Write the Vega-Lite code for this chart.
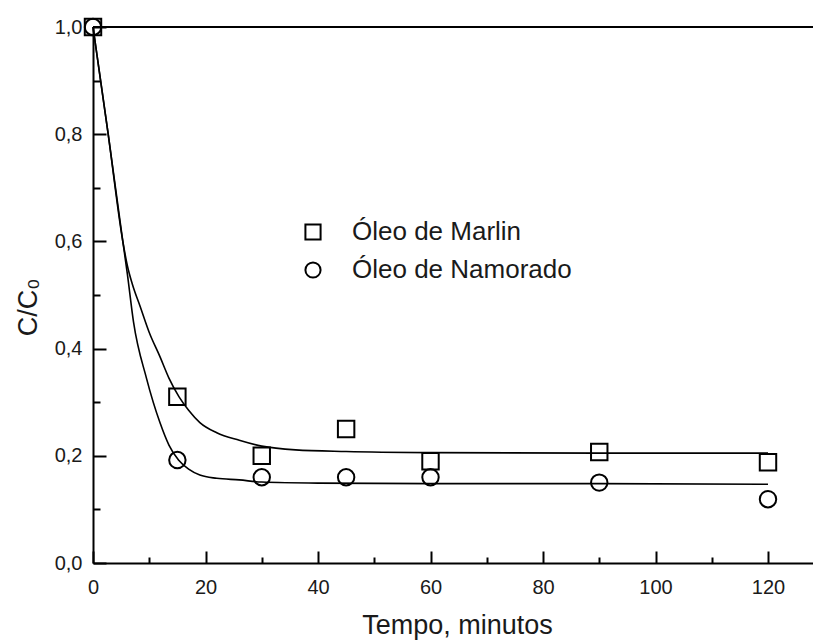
{
  "$schema": "https://vega.github.io/schema/vega-lite/v6.json",
  "width": 720,
  "height": 536,
  "autosize": {"type": "none"},
  "padding": {"left": 93, "top": 27, "right": 0, "bottom": 79},
  "background": "white",
  "config": {
    "view": {"stroke": null},
    "font": "Liberation Sans",
    "axis": {"grid": false, "domainColor": "black", "domainWidth": 2, "tickColor": "black", "tickWidth": 2, "labelColor": "#1a1a1a", "titleColor": "#1a1a1a", "labelFont": "Liberation Sans", "titleFont": "Liberation Sans", "labelFlush": false, "labelOverlap": false}
  },
  "datasets": {
    "pts": [
      {"series": "Óleo de Marlin", "t": 0, "c": 1.0},
      {"series": "Óleo de Marlin", "t": 15, "c": 0.31},
      {"series": "Óleo de Marlin", "t": 30, "c": 0.20},
      {"series": "Óleo de Marlin", "t": 45, "c": 0.25},
      {"series": "Óleo de Marlin", "t": 60, "c": 0.19},
      {"series": "Óleo de Marlin", "t": 90, "c": 0.207},
      {"series": "Óleo de Marlin", "t": 120, "c": 0.188},
      {"series": "Óleo de Namorado", "t": 0, "c": 1.0},
      {"series": "Óleo de Namorado", "t": 15, "c": 0.192},
      {"series": "Óleo de Namorado", "t": 30, "c": 0.16},
      {"series": "Óleo de Namorado", "t": 45, "c": 0.16},
      {"series": "Óleo de Namorado", "t": 60, "c": 0.16},
      {"series": "Óleo de Namorado", "t": 90, "c": 0.15},
      {"series": "Óleo de Namorado", "t": 120, "c": 0.119}
    ],
    "fit": [
      {"series": "Marlin", "t": 0, "c": 1.0},
      {"series": "Marlin", "t": 2.7, "c": 0.8},
      {"series": "Marlin", "t": 5.3, "c": 0.6},
      {"series": "Marlin", "t": 6.1, "c": 0.555},
      {"series": "Marlin", "t": 7, "c": 0.52},
      {"series": "Marlin", "t": 8.4, "c": 0.478},
      {"series": "Marlin", "t": 10, "c": 0.43},
      {"series": "Marlin", "t": 11.9, "c": 0.385},
      {"series": "Marlin", "t": 13.5, "c": 0.345},
      {"series": "Marlin", "t": 15.3, "c": 0.31},
      {"series": "Marlin", "t": 17, "c": 0.285},
      {"series": "Marlin", "t": 19, "c": 0.262},
      {"series": "Marlin", "t": 22, "c": 0.243},
      {"series": "Marlin", "t": 26, "c": 0.229},
      {"series": "Marlin", "t": 30, "c": 0.218},
      {"series": "Marlin", "t": 36, "c": 0.211},
      {"series": "Marlin", "t": 45, "c": 0.208},
      {"series": "Marlin", "t": 60, "c": 0.206},
      {"series": "Marlin", "t": 90, "c": 0.205},
      {"series": "Marlin", "t": 120, "c": 0.205},
      {"series": "Namorado", "t": 0, "c": 1.0},
      {"series": "Namorado", "t": 2.7, "c": 0.8},
      {"series": "Namorado", "t": 5.3, "c": 0.6},
      {"series": "Namorado", "t": 6.1, "c": 0.54},
      {"series": "Namorado", "t": 7.2, "c": 0.45},
      {"series": "Namorado", "t": 9.5, "c": 0.345},
      {"series": "Namorado", "t": 11.9, "c": 0.262},
      {"series": "Namorado", "t": 13.5, "c": 0.22},
      {"series": "Namorado", "t": 15.2, "c": 0.192},
      {"series": "Namorado", "t": 17, "c": 0.175},
      {"series": "Namorado", "t": 19, "c": 0.164},
      {"series": "Namorado", "t": 22, "c": 0.158},
      {"series": "Namorado", "t": 26, "c": 0.155},
      {"series": "Namorado", "t": 30, "c": 0.151},
      {"series": "Namorado", "t": 40, "c": 0.149},
      {"series": "Namorado", "t": 60, "c": 0.148},
      {"series": "Namorado", "t": 90, "c": 0.148},
      {"series": "Namorado", "t": 120, "c": 0.147}
    ]
  },
  "resolve": {"axis": {"x": "independent", "y": "independent"}},
  "layer": [
    {
      "data": {"values": [{}]},
      "mark": {"type": "rule", "color": "black", "strokeWidth": 2},
      "encoding": {"y": {"datum": 1, "type": "quantitative", "axis": null}}
    },
    {
      "data": {"name": "fit"},
      "mark": {"type": "line", "color": "black", "strokeWidth": 1.6, "interpolate": "monotone"},
      "encoding": {
        "x": {
          "field": "t", "type": "quantitative",
          "axis": {
            "orient": "bottom",
            "values": [0, 20, 40, 60, 80, 100, 120],
            "ticks": true,
            "tickSize": -12,
            "labelPadding": 26,
            "labelFontSize": 20,
            "title": "Tempo, minutos",
            "titleFontSize": 27,
            "titleFontWeight": "normal",
            "titleX": 364,
            "titleY": 62,
            "titleAlign": "center",
            "titleBaseline": "middle"
          }
        },
        "y": {
          "field": "c", "type": "quantitative",
          "axis": {
            "orient": "left",
            "values": [0, 0.2, 0.4, 0.6, 0.8, 1.0],
            "labelExpr": "replace(format(datum.value, '.1f'), '.', ',')",
            "ticks": true,
            "tickSize": -13,
            "labelPadding": 24,
            "labelFontSize": 20,
            "title": "C/C₀",
            "titleFontSize": 27,
            "titleFontWeight": "normal",
            "titleAngle": 270,
            "titleX": -65,
            "titleY": 280,
            "titleAlign": "center",
            "titleBaseline": "middle"
          }
        },
        "detail": {"field": "series", "type": "nominal"}
      }
    },
    {
      "data": {"name": "pts"},
      "mark": {"type": "point", "filled": false, "color": "black", "strokeWidth": 2, "size": 270, "opacity": 1},
      "encoding": {
        "x": {
          "field": "t", "type": "quantitative",
          "scale": {"domain": [0, 128], "nice": false, "zero": false},
          "axis": {"orient": "bottom", "values": [10, 30, 50, 70, 90, 110], "tickSize": -6, "labels": false, "domain": false, "title": null}
        },
        "y": {
          "field": "c", "type": "quantitative",
          "scale": {"domain": [0, 1], "nice": false, "zero": false},
          "axis": {"orient": "left", "values": [0.1, 0.3, 0.5, 0.7, 0.9], "tickSize": -7, "labels": false, "domain": false, "title": null}
        },
        "shape": {
          "field": "series", "type": "nominal",
          "scale": {"domain": ["Óleo de Marlin", "Óleo de Namorado"], "range": ["square", "circle"]},
          "legend": {
            "title": null,
            "orient": "none",
            "legendX": 207,
            "legendY": 192,
            "padding": 0,
            "labelFontSize": 26,
            "labelFont": "Liberation Sans",
            "labelColor": "#1a1a1a",
            "labelOffset": 26,
            "labelLimit": 500,
            "rowPadding": 12,
            "symbolSize": 230,
            "symbolStrokeColor": "black",
            "symbolStrokeWidth": 2,
            "symbolFillColor": "transparent"
          }
        }
      }
    }
  ]
}
